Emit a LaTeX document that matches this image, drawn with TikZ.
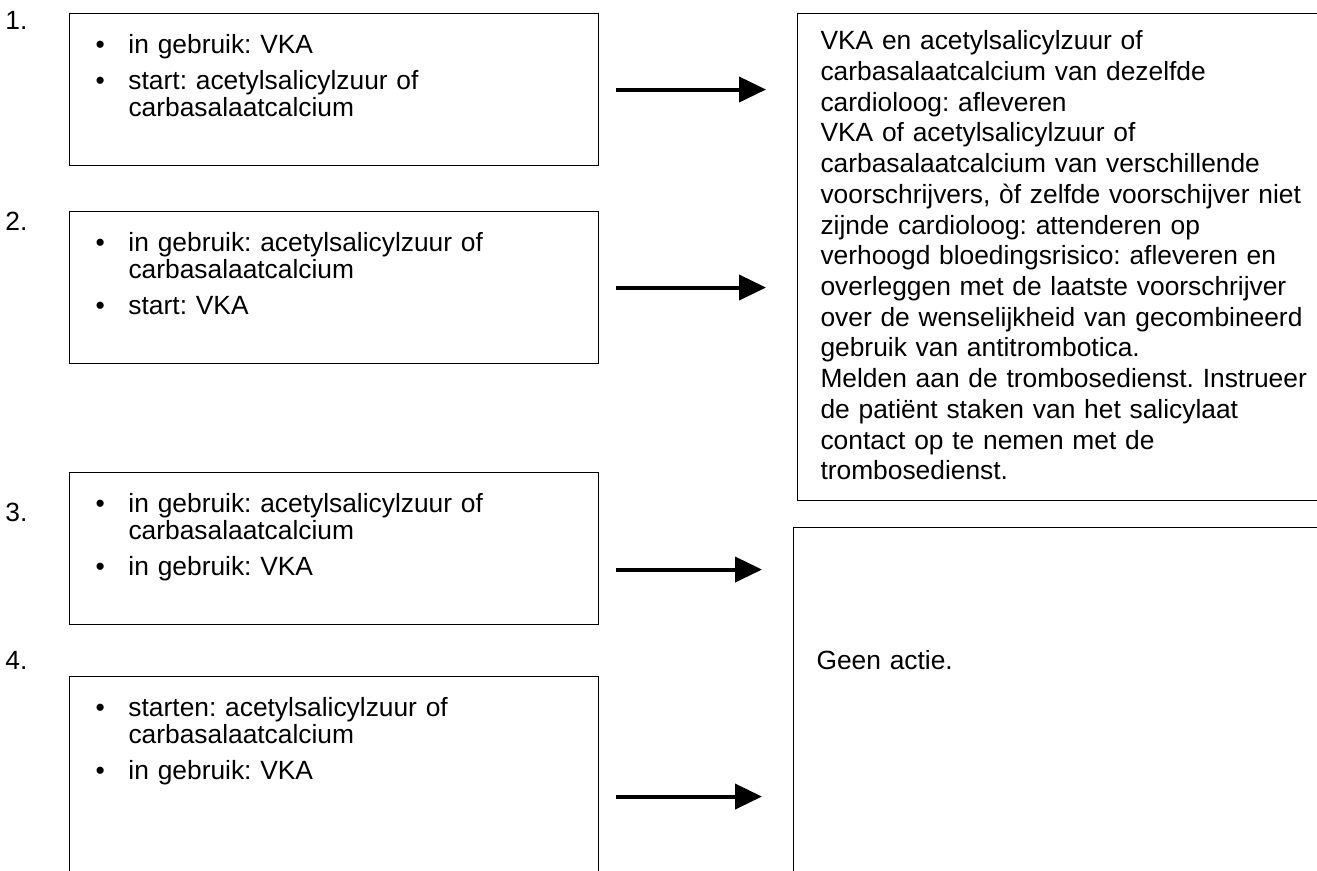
\documentclass[tikz,border=0pt]{standalone}
\usepackage{fontspec}
\setmainfont{Liberation Sans}
\usetikzlibrary{positioning, calc, arrows.meta}
\frenchspacing

\newcommand{\bul}{\makebox[0.66cm][l]{\textbullet}}
\newcommand{\ind}{\hspace*{0.66cm}}

\begin{document}
\begin{tikzpicture}[x=0.02cm, y=-0.02cm, font=\fontsize{15}{15.4}\selectfont]
        % Define block styles
        \tikzstyle{casebox} = [rectangle, draw, line width=0.6pt, anchor=north west, inner xsep=0.52cm, inner ysep=0pt, text width=9.54cm, align=left, text height=0.8cm, text depth=2.24cm]
        \tikzstyle{advicebox} = [rectangle, draw, line width=0.6pt, anchor=north west, inner xsep=0.46cm, inner ysep=0pt, text width=11cm, align=left, font=\fontsize{15}{17.5}\selectfont]
        \tikzstyle{number} = [anchor=base west, inner sep=0pt]
        \tikzstyle{arrowline} = [line width=0.08cm, -{Triangle[length=0.54cm, width=0.5cm]}, shorten <=0.34cm, shorten >=0.62cm]

        % Page frame
        \useasboundingbox (0,0) rectangle (1317,870);
        \clip (0,0) rectangle (1317,870);

        % Place nodes
        \node [casebox] (case1) at (69,13) {\bul in gebruik: VKA\\[0.18cm] \bul start: acetylsalicylzuur of\\ \ind carbasalaatcalcium};
        \node [casebox, below=0.9cm of case1] (case2) {\bul in gebruik: acetylsalicylzuur of\\ \ind carbasalaatcalcium\\[0.18cm] \bul start: VKA};
        \node [casebox, below=2.16cm of case2] (case3) {\bul in gebruik: acetylsalicylzuur of\\ \ind carbasalaatcalcium\\[0.18cm] \bul in gebruik: VKA};
        \node [casebox, below=1.02cm of case3, text depth=4cm] (case4) {\bul starten: acetylsalicylzuur of\\ \ind carbasalaatcalcium\\[0.18cm] \bul in gebruik: VKA};

        \node [advicebox, text height=0.72cm, text depth=9.02cm] (advice1) at (797,13) {VKA en acetylsalicylzuur of\\ carbasalaatcalcium van dezelfde\\ cardioloog: afleveren\\ VKA of acetylsalicylzuur of\\ carbasalaatcalcium van verschillende\\ voorschrijvers, òf zelfde voorschijver niet\\ zijnde cardioloog: attenderen op\\ verhoogd bloedingsrisico: afleveren en\\ overleggen met de laatste voorschrijver\\ over de wenselijkheid van gecombineerd\\ gebruik van antitrombotica.\\ Melden aan de trombosedienst. Instrueer\\ de patiënt staken van het salicylaat\\ contact op te nemen met de\\ trombosedienst.};
        \node [advicebox, text height=2.84cm, text depth=8cm] (advice2) at (793,527) {Geen actie.};

        % Case numbers
        \node [number] (num1) at (5,29) {1.};
        \node [number] (num2) at (5,230) {2.};
        \node [number] (num3) at (5,521) {3.};
        \node [number] (num4) at (5,669) {4.};

        % Draw connections as arrows
        \draw [arrowline] (case1.east) -- (case1.east -| advice1.west);
        \draw [arrowline] (case2.east) -- (case2.east -| advice1.west);
        \draw [arrowline] ([yshift=-0.42cm]case3.east) -- ([yshift=-0.42cm]case3.east -| advice2.west);
        \draw [arrowline] (case4.east) -- (case4.east -| advice2.west);
\end{tikzpicture}
\end{document}
